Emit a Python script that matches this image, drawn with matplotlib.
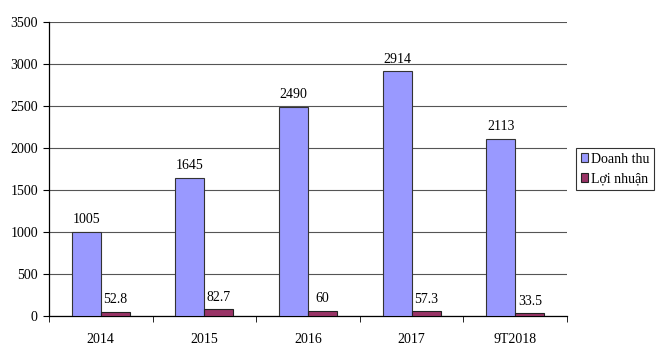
import numpy as np
import matplotlib.pyplot as plt

# Data
years = ['2014', '2015', '2016', '2017', '9T2018']
doanh_thu = [1005, 1645, 2490, 2914, 2113]
loi_nhuan = [52.8, 82.7, 60, 57.3, 33.5]
doanh_thu_lbl = ['1005', '1645', '2490', '2914', '2113']
loi_nhuan_lbl = ['52.8', '82.7', '60', '57.3', '33.5']

plt.rcParams['font.family'] = ['Liberation Serif', 'DejaVu Serif']
plt.rcParams['font.size'] = 10

fig = plt.figure(figsize=(6.6, 3.6), dpi=100)
ax = fig.add_axes([0.0742, 0.122, 0.785, 0.817])

x = np.arange(len(years))
width = 0.28

b1 = ax.bar(x - width/2, doanh_thu, width=width, color='#9999FF', edgecolor='#333333',
            linewidth=0.8, label='Doanh thu', zorder=3)
b2 = ax.bar(x + width/2, loi_nhuan, width=width, color='#993366', edgecolor='#222222',
            linewidth=0.8, label='Lợi nhuận', zorder=3)

for rect, lbl in zip(b1, doanh_thu_lbl):
    ax.annotate(lbl, (rect.get_x() + rect.get_width()/2, rect.get_height()),
                xytext=(0, 4), textcoords='offset points', ha='center', va='bottom')
for rect, lbl in zip(b2, loi_nhuan_lbl):
    ax.annotate(lbl, (rect.get_x() + rect.get_width()/2, rect.get_height()),
                xytext=(0, 4), textcoords='offset points', ha='center', va='bottom')

ax.set_xlim(-0.5, len(years) - 0.5)
ax.set_ylim(0, 3500)
ax.set_yticks(range(0, 3501, 500))
ax.set_xticks(x)
ax.set_xticklabels(years)
ax.set_xticks(np.arange(-0.5, len(years), 1), minor=True)
ax.tick_params(axis='x', which='major', length=0, pad=12)
ax.tick_params(axis='x', which='minor', length=4, direction='out')
ax.tick_params(axis='y', length=4, direction='out', pad=4)

ax.yaxis.grid(True, color='#555555', linewidth=0.8, zorder=0)
ax.set_axisbelow(True)
for s in ['top', 'right']:
    ax.spines[s].set_visible(False)
for s in ['left', 'bottom']:
    ax.spines[s].set_color('black')
    ax.spines[s].set_linewidth(0.9)

leg = ax.legend(loc='center left', bbox_to_anchor=(1.01, 0.5), frameon=True, fancybox=False,
                edgecolor='black', handlelength=0.55, handleheight=0.55,
                handletextpad=0.2, borderpad=0.3, borderaxespad=0.3, labelspacing=0.5)
leg.get_frame().set_linewidth(0.8)

fig.savefig('out.png', dpi=100)
